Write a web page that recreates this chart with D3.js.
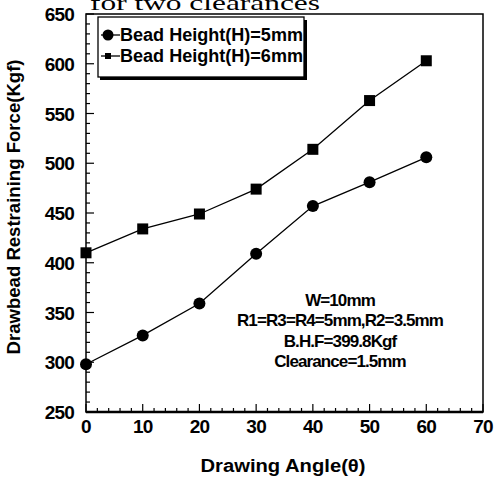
<!DOCTYPE html>
<html>
<head>
<meta charset="utf-8">
<script src="https://cdn.jsdelivr.net/npm/d3@7"></script>
<style>
  body { margin: 0; background: #fff; }
  text { font-family: "Liberation Sans", Arial, sans-serif; font-weight: bold; fill: #000; }
</style>
</head>
<body>
<script>
var w = 496;
var h = 481;

// drawing angle (deg)
var angles = [0, 10, 20, 30, 40, 50, 60];
// restraining force, Kgf
var h5 = [298, 327, 359, 409, 457, 481, 506];
var h6 = [410, 434, 449, 474, 514, 563, 603];
var seriesNames = ["Bead Height(H)=5mm", "Bead Height(H)=6mm"];
var xTicks = [0, 10, 20, 30, 40, 50, 60, 70];
var yTicks = [250, 300, 350, 400, 450, 500, 550, 600, 650];
var notes = ["W=10mm", "R1=R3=R4=5mm,R2=3.5mm", "B.H.F=399.8Kgf", "Clearance=1.5mm"];

var x = d3.scaleLinear().domain([0, 70]).range([86, 483]);
var y = d3.scaleLinear().domain([250, 650]).range([412, 14]);

var svg = d3.select("body").append("svg")
  .attr("width", w)
  .attr("height", h);

// caption line, cut by the top edge as in the scan
svg.append("text")
  .attr("x", 90).attr("y", 10)
  .attr("textLength", 230).attr("lengthAdjust", "spacingAndGlyphs")
  .style("font-family", "'Liberation Serif', serif")
  .style("font-weight", "normal")
  .style("font-size", "22px")
  .text("for  two  clearances");

// minor ticks (inward)
var g = svg.append("g");
g.selectAll(".xm").data(d3.range(0, 71, 2))
  .enter().append("line")
  .attr("x1", d => x(d)).attr("x2", d => x(d))
  .attr("y1", y(250)).attr("y2", d => y(250) - (d % 10 == 0 ? 8 : 4))
  .attr("stroke", "#000").attr("stroke-width", 1.2);
g.selectAll(".ym").data(d3.range(250, 651, 10))
  .enter().append("line")
  .attr("y1", d => y(d)).attr("y2", d => y(d))
  .attr("x1", x(0)).attr("x2", d => x(0) + (d % 50 == 0 ? 8 : 4))
  .attr("stroke", "#000").attr("stroke-width", 1.2);

// frame
svg.append("rect")
  .attr("x", x(0)).attr("y", y(650))
  .attr("width", x(70) - x(0)).attr("height", y(250) - y(650))
  .attr("fill", "none").attr("stroke", "#000").attr("stroke-width", 1.5);
svg.append("line")
  .attr("x1", x(0)).attr("x2", x(70)).attr("y1", y(250)).attr("y2", y(250))
  .attr("stroke", "#000").attr("stroke-width", 2.5);

// tick labels
svg.selectAll(".xl").data(xTicks)
  .enter().append("text")
  .attr("x", d => x(d)).attr("y", 433)
  .attr("text-anchor", "middle")
  .style("font-size", "19px")
  .style("letter-spacing", "-0.8px")
  .text(d => d);
svg.selectAll(".yl").data(yTicks)
  .enter().append("text")
  .attr("x", 74).attr("y", d => y(d) + 7)
  .attr("text-anchor", "end")
  .style("font-size", "19px")
  .style("letter-spacing", "-0.8px")
  .text(d => d);

// axis titles
svg.append("text")
  .attr("x", 283).attr("y", 472)
  .attr("text-anchor", "middle")
  .attr("textLength", 165).attr("lengthAdjust", "spacingAndGlyphs")
  .style("font-size", "18px")
  .text("Drawing Angle(\u03b8)");
svg.append("text")
  .attr("transform", "translate(20,207) rotate(-90)")
  .attr("text-anchor", "middle")
  .attr("textLength", 295).attr("lengthAdjust", "spacingAndGlyphs")
  .style("font-size", "18px")
  .text("Drawbead Restraining Force(Kgf)");

// lines and markers
var line = d3.line().x((d, i) => x(angles[i])).y(d => y(d));
[h5, h6].forEach(function(s) {
  svg.append("path").datum(s)
    .attr("d", line)
    .attr("fill", "none").attr("stroke", "#000").attr("stroke-width", 1.3);
});
svg.selectAll(".c5").data(h5)
  .enter().append("circle")
  .attr("cx", (d, i) => x(angles[i])).attr("cy", d => y(d))
  .attr("r", 6).attr("fill", "#000");
svg.selectAll(".s6").data(h6)
  .enter().append("rect")
  .attr("x", (d, i) => x(angles[i]) - 5.5).attr("y", d => y(d) - 5.5)
  .attr("width", 11).attr("height", 11).attr("fill", "#000");

// legend
var lg = svg.append("g");
lg.append("rect").attr("x", 100).attr("y", 20).attr("width", 207).attr("height", 60)
  .attr("fill", "#000");
lg.append("rect").attr("x", 98).attr("y", 17).attr("width", 206).attr("height", 60)
  .attr("fill", "#fff").attr("stroke", "#000").attr("stroke-width", 1.3);
lg.selectAll(".lt").data(seriesNames)
  .enter().append("text")
  .attr("x", 120).attr("y", (d, i) => 41 + i * 21)
  .attr("textLength", 183).attr("lengthAdjust", "spacingAndGlyphs")
  .style("font-size", "18px")
  .text(d => d);
lg.append("line").attr("x1", 101).attr("x2", 120).attr("y1", 35).attr("y2", 35)
  .attr("stroke", "#000").attr("stroke-width", 1.3);
lg.append("circle").attr("cx", 108).attr("cy", 35).attr("r", 5.5).attr("fill", "#000");
lg.append("line").attr("x1", 101).attr("x2", 120).attr("y1", 56).attr("y2", 56)
  .attr("stroke", "#000").attr("stroke-width", 1.3);
lg.append("rect").attr("x", 105).attr("y", 53).attr("width", 6).attr("height", 6).attr("fill", "#000");

// annotation block
svg.selectAll(".nt").data(notes)
  .enter().append("text")
  .attr("x", 340).attr("y", (d, i) => 306 + i * 20.3)
  .attr("text-anchor", "middle")
  .style("font-size", "17px")
  .style("letter-spacing", "-0.9px")
  .text(d => d);
</script>
</body>
</html>
